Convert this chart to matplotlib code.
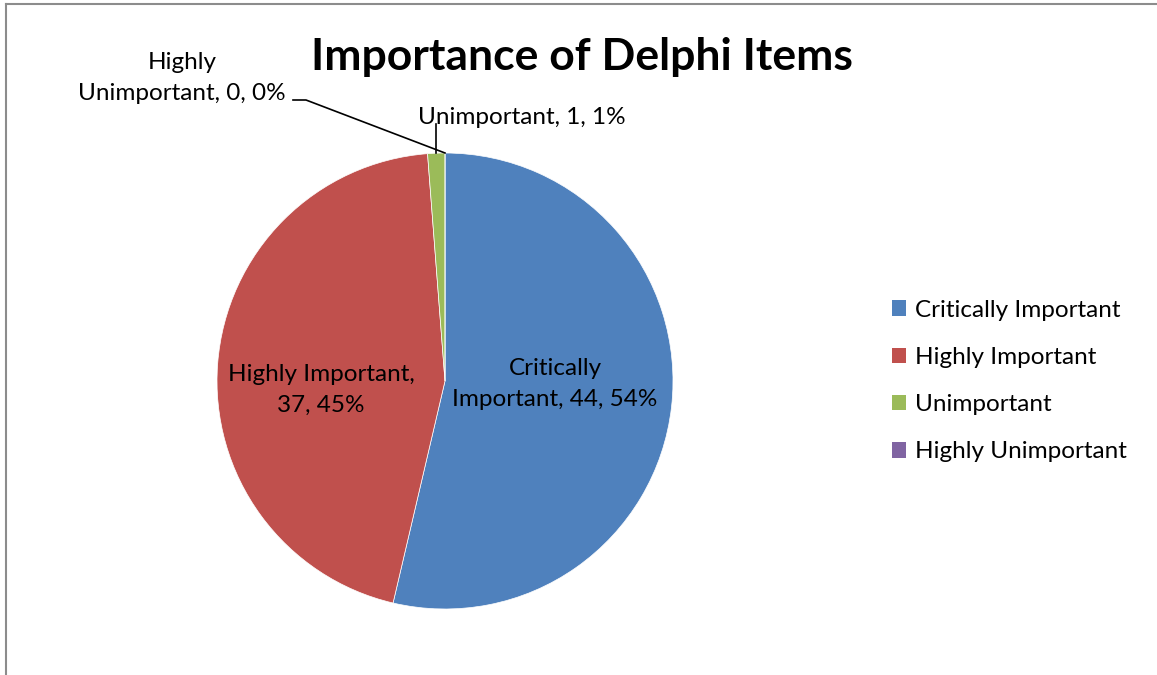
import numpy as np
import matplotlib
matplotlib.use('Agg')
import matplotlib.pyplot as plt
from matplotlib.lines import Line2D
from matplotlib.patches import Patch

plt.rcParams['font.family'] = ['Lato', 'DejaVu Sans']

categories = ['Critically Important', 'Highly Important', 'Unimportant', 'Highly Unimportant']
counts = [44, 37, 1, 0]
percents = ['54%', '45%', '1%', '0%']
colors = ['#4F81BD', '#C0504D', '#9BBB59', '#8064A2']

W, H = 1157, 675
fig = plt.figure(figsize=(W / 100, H / 100), dpi=100)

# chart frame (top and left edges visible)
fig.add_artist(Line2D([6 / W, 6 / W], [0, 1 - 4 / H], transform=fig.transFigure, color='#8c8c8c', lw=1.5))
fig.add_artist(Line2D([6 / W, 1], [1 - 4 / H, 1 - 4 / H], transform=fig.transFigure, color='#8c8c8c', lw=1.5))

# pie axes: centre (445, 381), radius 228 px
cx, cy, r = 445, 381, 228
ax = fig.add_axes([(cx - r) / W, (H - cy - r) / H, 2 * r / W, 2 * r / H])
wedges, _ = ax.pie(counts, colors=colors, startangle=90, counterclock=False, radius=1,
                   wedgeprops=dict(linewidth=0.5, edgecolor='white'))
ax.set_xlim(-1, 1)
ax.set_ylim(-1, 1)
ax.set_aspect('equal')
ax.axis('off')

def px(x, y):
    return (x - cx) / r, (cy - y) / r

fs = 17.5
ls = 1.55
labels = [f'{c}, {n}, {p}' for c, n, p in zip(categories, counts, percents)]
ax.text(*px(555, 384), 'Critically\nImportant, 44, 54%', ha='center', va='center', fontsize=fs, linespacing=ls)
ax.text(*px(321, 390), 'Highly Important,\n37, 45%', ha='center', va='center', fontsize=fs, linespacing=ls)
ax.text(*px(522, 117), labels[2], ha='center', va='center', fontsize=fs, clip_on=False)
ax.text(*px(182, 78), 'Highly\nUnimportant, 0, 0%', ha='center', va='center', fontsize=fs, linespacing=ls, clip_on=False)

# leader lines to the two thin slices
ang_u = np.deg2rad((wedges[2].theta1 + wedges[2].theta2) / 2)
ux, uy = np.cos(ang_u), np.sin(ang_u)
ax.plot([ux, ux], [uy, px(0, 124)[1]], color='black', lw=1.2, clip_on=False)
ang_h = np.deg2rad(wedges[3].theta1)
hx, hy = np.cos(ang_h), np.sin(ang_h)
p1 = px(293, 100)
p2 = px(306, 100)
ax.plot([p1[0], p2[0], hx], [p1[1], p2[1], hy], color='black', lw=1.2, clip_on=False)

fig.text(582 / W, 1 - 57 / H, 'Importance of Delphi Items', ha='center', va='center',
         fontsize=32, fontweight='bold')

handles = [Patch(facecolor=c, edgecolor='none') for c in colors]
fig.legend(handles, categories, loc='center left', bbox_to_anchor=(870 / W, 1 - 381 / H),
           frameon=False, fontsize=fs, handlelength=0.6, handleheight=0.6,
           handletextpad=0.35, labelspacing=1.08)

fig.savefig('out.png', dpi=100)
